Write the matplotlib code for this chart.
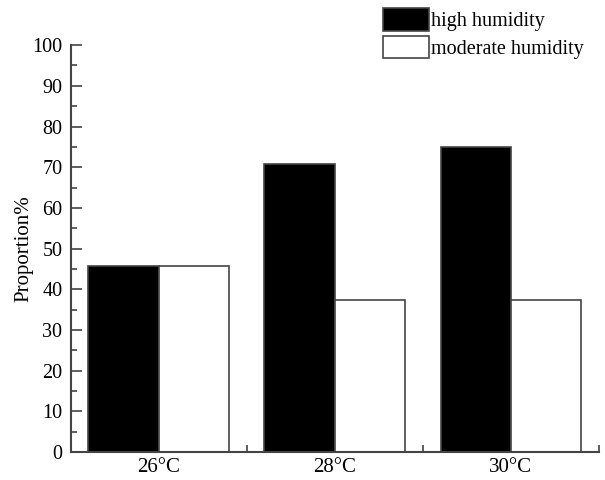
import matplotlib
matplotlib.use("Agg")
import matplotlib.pyplot as plt
import numpy as np
from matplotlib.ticker import MultipleLocator, FixedLocator

plt.rcParams['font.family'] = ['Liberation Serif', 'DejaVu Serif']

categories = ["26°C", "28°C", "30°C"]
high_humidity = [45.8, 70.8, 75.0]
moderate_humidity = [45.8, 37.5, 37.5]

fig = plt.figure(figsize=(6.05, 4.8), dpi=100)
ax = fig.add_axes([0.117, 0.058, 0.873, 0.848])

x = np.arange(len(categories))
w = 0.4
edge = '#444444'
b1 = ax.bar(x - w/2, high_humidity, width=w, color='black', edgecolor=edge, linewidth=1.2, label='high humidity')
b2 = ax.bar(x + w/2, moderate_humidity, width=w, color='white', edgecolor=edge, linewidth=1.2, label='moderate humidity')

ax.set_xlim(-0.5, 2.5)
ax.set_ylim(0, 100)
ax.set_xticks(x)
ax.set_xticklabels(categories, fontsize=15)
ax.xaxis.set_minor_locator(FixedLocator([0.5, 1.5, 2.5]))
ax.tick_params(axis='x', which='major', length=0, pad=4)
ax.tick_params(axis='x', which='minor', direction='in', length=5, color=edge, width=1.2)
ax.yaxis.set_major_locator(MultipleLocator(10))
ax.yaxis.set_minor_locator(MultipleLocator(5))
ax.tick_params(axis='y', which='major', direction='in', length=8, color=edge, width=1.2, labelsize=14.5, pad=6)
ax.tick_params(axis='y', which='minor', direction='in', length=4, color=edge, width=1.2)
for s in ['top', 'right']:
    ax.spines[s].set_visible(False)
for s in ['left', 'bottom']:
    ax.spines[s].set_color(edge)
    ax.spines[s].set_linewidth(1.5)
ax.set_ylabel('Proportion%', fontsize=15, labelpad=-1)

fig.legend(handles=[b1, b2], loc='upper left', bbox_to_anchor=(0.633, 0.983),
           frameon=False, fontsize=14.5, handlelength=2.3, handleheight=1.35,
           labelspacing=0.22, handletextpad=0.1, borderaxespad=0, borderpad=0)

fig.savefig('out.png', dpi=100)
